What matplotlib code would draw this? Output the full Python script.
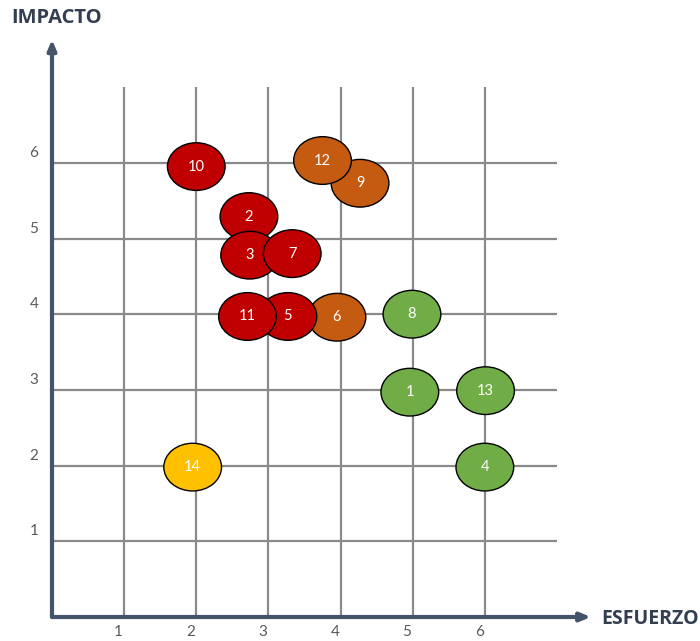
import matplotlib
matplotlib.use("Agg")
import matplotlib.pyplot as plt
from matplotlib.patches import Ellipse

# bubble data (draw order matters for overlaps)
labels = ["10", "6", "5", "11", "9", "12", "2", "3", "7", "8", "1", "13", "4", "14"]
esfuerzo = [2.0, 3.95, 3.27, 2.71, 4.27, 3.75, 2.73, 2.74, 3.33, 4.99, 4.96, 6.01, 6.0, 1.95]
impacto = [5.95, 3.96, 3.97, 3.97, 5.73, 6.03, 5.29, 4.78, 4.80, 4.0, 2.97, 2.99, 1.98, 1.98]
grupo = ["rojo", "naranja", "rojo", "rojo", "naranja", "naranja", "rojo", "rojo", "rojo",
         "verde", "verde", "verde", "verde", "amarillo"]
colores = {"rojo": "#C00000", "naranja": "#C55A11", "verde": "#70AD47", "amarillo": "#FFC000"}

ticks = [1, 2, 3, 4, 5, 6]

fig = plt.figure(figsize=(7, 6.41), dpi=100)
ax = fig.add_axes([52 / 700, 24 / 641, 7.5 * 72.14 / 700, 7.7 * 75.7 / 641])
ax.set_xlim(0, 7.5)
ax.set_ylim(0, 7.7)
ax.axis("off")

grid_c = "#8A8A8A"
ax.vlines(ticks, 0, 7, color=grid_c, lw=1.6, zorder=1)
ax.hlines(ticks, 0, 7, color=grid_c, lw=1.6, zorder=1)

axis_c = "#44546A"
ax.annotate("", xy=(7.47, 0), xytext=(0, 0),
            arrowprops=dict(arrowstyle="-|>,head_length=0.6,head_width=0.25", color=axis_c, lw=3,
                            shrinkA=0, shrinkB=0), zorder=2)
ax.annotate("", xy=(0, 7.63), xytext=(0, 0),
            arrowprops=dict(arrowstyle="-|>,head_length=0.6,head_width=0.25", color=axis_c, lw=3,
                            shrinkA=0, shrinkB=0), zorder=2)

for t in ticks:
    ax.text(t - 0.08, -0.2, str(t), ha="center", va="center", fontsize=11,
            color="#595959", family="Lato", clip_on=False)
    ax.text(-0.25, t + 0.13, str(t), ha="center", va="center", fontsize=11,
            color="#595959", family="Lato", clip_on=False)

for lab, x, y, g in zip(labels, esfuerzo, impacto, grupo):
    e = Ellipse((x, y), 0.80, 0.63, facecolor=colores[g], edgecolor="black", lw=1, zorder=3)
    ax.add_patch(e)
    ax.text(x, y, lab, ha="center", va="center", color="white", fontsize=10.5,
            family="Lato", zorder=3)

fig.text(57 / 700, 1 - 18 / 641, "IMPACTO", ha="center", va="center", fontsize=14.5,
         fontweight="bold", color="#333F50", family="Open Sans")
fig.text(650 / 700, 1 - 619 / 641, "ESFUERZO", ha="center", va="center", fontsize=14,
         fontweight="bold", color="#333F50", family="Open Sans")

fig.savefig("out.png", dpi=100)
